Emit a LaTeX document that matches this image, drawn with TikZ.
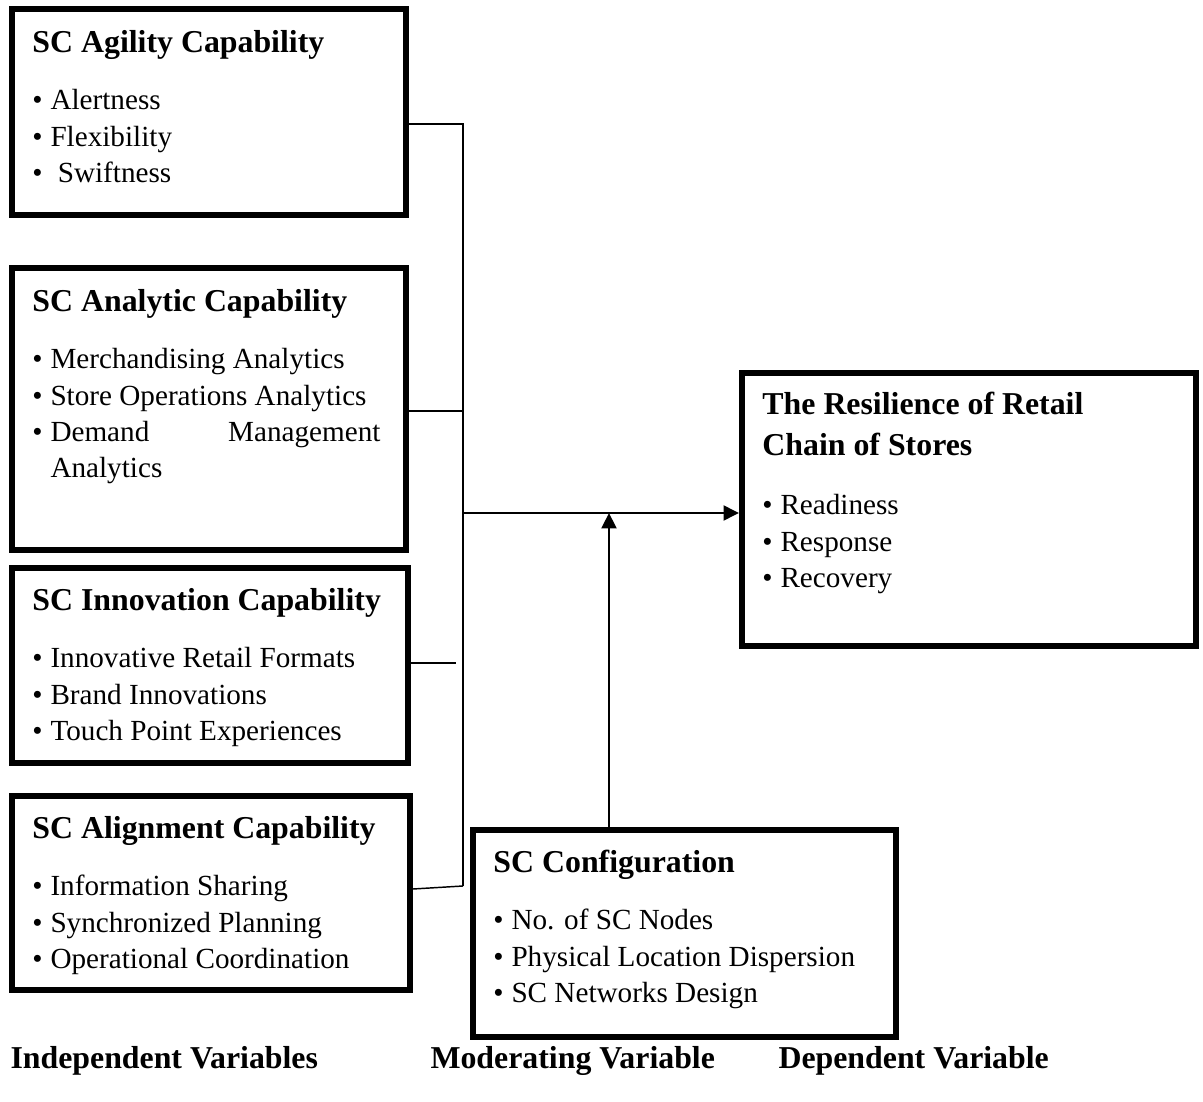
\documentclass[tikz,border=0pt]{standalone}
\usepackage{fontspec}
\setmainfont{Liberation Serif}
\usetikzlibrary{arrows.meta,fit}
\newcommand{\bul}{\makebox[6.8pt][l]{\textbullet}}
\newcommand{\ttl}[1]{\textbf{\fontsize{12}{13.6}\selectfont #1}}
\tikzset{
  capbox/.style={draw,line width=2.3pt,inner sep=0pt},
  boxtext/.style={anchor=base west,inner sep=0pt,font=\fontsize{11}{13.6}\selectfont},
  link/.style={line width=0.55pt},
  flow/.style={line width=0.9pt,-{Triangle[length=5.8pt,width=5.6pt]}},
  varlabel/.style={anchor=base west,inner sep=0pt,font=\fontsize{12}{14}\selectfont\bfseries},
}
\begin{document}
\begin{tikzpicture}[x=0.377pt,y=-0.377pt]
  \useasboundingbox (0,0) rectangle (1203,1102);

  % Independent variables.
  \node[capbox,fit={(12,9) (406,215)}] (agility) {};
  \node[boxtext] (agilitytxt) at ([shift={(23,47)}]agility.north west)
    {\begin{tabular}[t]{@{}l@{}}\ttl{SC Agility Capability}\\[7.9pt]
     \bul Alertness\\ \bul Flexibility\\ \bul\ Swiftness\end{tabular}};

  \node[capbox,fit={(12,268) (406,550)}] (analytic) {};
  \node[boxtext] (analytictxt) at ([shift={(23,47)}]analytic.north west)
    {\begin{tabular}[t]{@{}l@{}}\ttl{SC Analytic Capability}\\[7.9pt]
     \bul Merchandising Analytics\\ \bul Store Operations Analytics\\
     \bul\hbox to 124.4pt{Demand\hfill Management}\\ \hspace{6.8pt}Analytics\end{tabular}};

  \node[capbox,fit={(12,568) (408,763)}] (innovation) {};
  \node[boxtext] (innovationtxt) at ([shift={(23,46)}]innovation.north west)
    {\begin{tabular}[t]{@{}l@{}}\ttl{SC Innovation Capability}\\[7.9pt]
     \bul Innovative Retail Formats\\ \bul Brand Innovations\\ \bul Touch Point Experiences\end{tabular}};

  \node[capbox,fit={(12,796) (410,990)}] (alignment) {};
  \node[boxtext] (alignmenttxt) at ([shift={(23,46)}]alignment.north west)
    {\begin{tabular}[t]{@{}l@{}}\ttl{SC Alignment Capability}\\[7.9pt]
     \bul Information Sharing\\ \bul Synchronized Planning\\ \bul Operational Coordination\end{tabular}};

  % Dependent and moderating variables.
  \node[capbox,fit={(742,373) (1196,646)}] (resilience) {};
  \node[boxtext] (resiliencetxt) at ([shift={(23,45)}]resilience.north west)
    {\begin{tabular}[t]{@{}l@{}}\ttl{The Resilience of Retail}\\[1.5pt]
     \ttl{Chain of Stores}\\[9pt]
     \bul Readiness\\ \bul Response\\ \bul Recovery\end{tabular}};

  \node[capbox,fit={(473,830) (896,1037)}] (config) {};
  \node[boxtext] (configtxt) at ([shift={(23,46)}]config.north west)
    {\begin{tabular}[t]{@{}l@{}}\ttl{SC Configuration}\\[7.9pt]
     \bul No. of SC Nodes\\ \bul Physical Location Dispersion\\ \bul SC Networks Design\end{tabular}};

  % Bus and arrows.
  \coordinate (bustop) at (463,124);
  \coordinate (busB) at (463,411);
  \coordinate (busC) at (456,663);
  \coordinate (busmid) at (463,513);
  \coordinate (busbot) at (463,886);
  \coordinate (modin) at (609,513);
  \draw[link] (agility.east |- bustop) -- (bustop) -- (busbot);
  \draw[link] (analytic.east |- busB) -- (busB);
  \draw[link] (innovation.east |- busC) -- (busC);
  \draw[link] ([shift={(0,-4)}]alignment.east) -- (busbot);
  \draw[flow] (busmid) -- (resilience.west |- busmid);
  \draw[flow] (config.north -| modin) -- (modin);

  % Column labels.
  \node[varlabel] (indep) at (10,1068) {Independent Variables};
  \node[varlabel] (moder) at (430,1068) {Moderating Variable};
  \node[varlabel] (dep) at (778,1068) {Dependent Variable};
\end{tikzpicture}
\end{document}
